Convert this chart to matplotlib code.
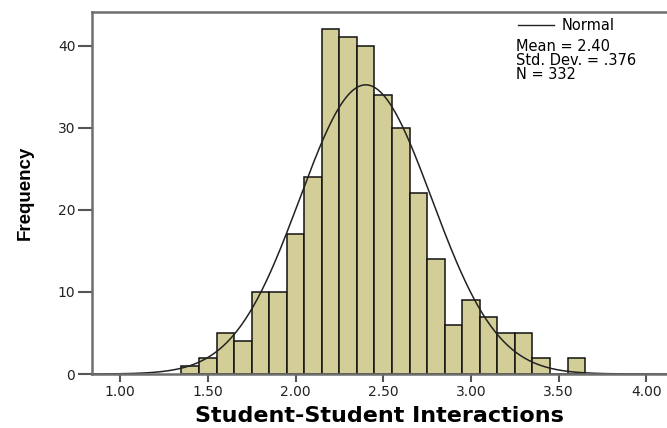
import matplotlib as mpl
mpl.use('Agg')
import matplotlib.pyplot as plt
import numpy as np

# Histogram counts, bins of width 0.10 starting at 1.35
bin_start = 1.35
bin_width = 0.10
counts = [1, 2, 5, 4, 10, 10, 17, 24, 42, 41, 40, 34, 30, 22, 14, 6, 9, 7, 5, 5, 2, 0, 2]

mean = 2.40
std_dev = 0.376
n_obs = 332

x_ticks = [1.00, 1.50, 2.00, 2.50, 3.00, 3.50, 4.00]
y_ticks = [0, 10, 20, 30, 40]
stats_lines = ['Mean = 2.40', 'Std. Dev. = .376', 'N = 332']

plt.rcParams['font.family'] = ['DejaVu Sans']

fig = plt.figure(figsize=(6.67, 4.28), dpi=100)
ax = fig.add_axes([92 / 667, 54 / 428, 575 / 667, 362 / 428])

# Bars
edges = bin_start + bin_width * np.arange(len(counts))
ax.bar(edges, counts, width=bin_width, align='edge',
       color='#d3ce97', edgecolor='#111111', linewidth=1.1)

# Normal curve scaled to counts
xs = np.linspace(0.85, 4.12, 400)
pdf = np.exp(-0.5 * ((xs - mean) / std_dev) ** 2) / (std_dev * np.sqrt(2 * np.pi))
ax.plot(xs, n_obs * bin_width * pdf, color='#222222', linewidth=1.1)

ax.set_xlim(0.84, 4.117)
ax.set_ylim(0, 44.1)
ax.set_xticks(x_ticks)
ax.set_xticklabels(['%.2f' % t for t in x_ticks])
ax.set_yticks(y_ticks)

for side in ['left', 'bottom', 'top']:
    ax.spines[side].set_color('#6e6e6e')
    ax.spines[side].set_linewidth(1.8)
ax.spines['right'].set_visible(False)
ax.tick_params(axis='x', direction='out', length=6, width=1.5, color='#555555',
               labelsize=10, labelcolor='#222222', pad=2)
ax.tick_params(axis='y', direction='out', length=10, width=1.5, color='#555555',
               labelsize=10, labelcolor='#222222', pad=2)

ax.set_xlabel('Student-Student Interactions', fontsize=16, fontweight='bold',
              labelpad=5)
ax.set_ylabel('Frequency', fontsize=13.5, fontweight='bold', labelpad=17,
              family='Liberation Sans')

# Legend entry and summary statistics
ax.plot([0.741, 0.803], [0.964, 0.964], transform=ax.transAxes,
        color='#222222', linewidth=1.0)
ax.text(0.816, 0.964, 'Normal', transform=ax.transAxes, fontsize=10.5,
        va='center', ha='left')
ax.text(0.737, 0.925, '\n'.join(stats_lines), transform=ax.transAxes,
        fontsize=10.5, va='top', ha='left', linespacing=0.9)

fig.savefig('out.png', dpi=100)
